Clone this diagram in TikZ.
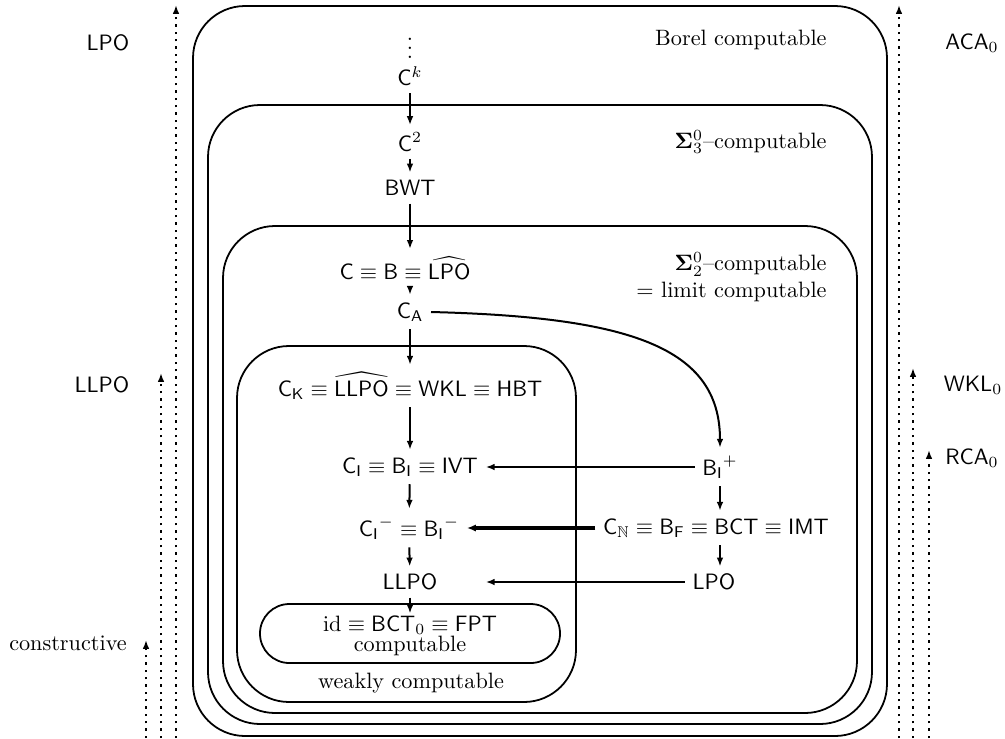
\documentclass[tikz,border=0pt]{standalone}
\usepackage{amsmath,amssymb}
\usetikzlibrary{arrows.meta}
\tikzset{
  region/.style={line width=0.8pt, rounded corners=23.4pt},
  smallregion/.style={line width=0.8pt, rounded corners=13.2pt},
  arr/.style={line width=0.9pt, -{Latex[length=4pt,width=3pt]}},
  thickarr/.style={line width=1.4pt, -{Latex[length=4pt,width=3.2pt]}},
  dotarr/.style={line width=1pt, dash pattern=on 1pt off 2.3pt, -{Latex[length=4pt,width=3pt]}},
  lbl/.style={inner sep=0pt},
}
\begin{document}
\begin{tikzpicture}[x=0.45pt,y=-0.45pt]
\useasboundingbox (0,0) rectangle (1005,738);
% regions
\draw[region] (193,6) rectangle (887,736);
\draw[region] (208,105) rectangle (872,724);
\draw[region] (223,226) rectangle (857,713);
\draw[region] (237,346) rectangle (576,702);
\draw[smallregion] (260,604) rectangle (560,663);
% region labels
\node[lbl, anchor=east] (borel) at (827,40) {Borel computable};
\node[lbl, anchor=east] (sig3) at (827,142) {$\mathbf{\Sigma}^0_3$--computable};
\node[lbl, anchor=east, align=right] (sig2) at (827,277) {$\mathbf{\Sigma}^0_2$--computable\\$=$ limit computable};
\node[lbl] (weak) at (411,683) {weakly computable};
% nodes
\node (dots) at (410,42) {$\vdots$};
\node (Ck) at (410,76) {$\mathsf{C}^k$};
\node (C2) at (410,142) {$\mathsf{C}^2$};
\node (BWT) at (410,188) {$\mathsf{BWT}$};
\node (C) at (405,268) {$\mathsf{C}\equiv\mathsf{B}\equiv\widehat{\mathsf{LPO}}$};
\node (CA) at (410,312) {$\mathsf{C}_{\mathsf{A}}$};
\node (CK) at (410,386) {$\mathsf{C}_{\mathsf{K}}\equiv\widehat{\mathsf{LLPO}}\equiv\mathsf{WKL}\equiv\mathsf{HBT}$};
\node (CI) at (410,467) {$\mathsf{C}_{\mathsf{I}}\equiv\mathsf{B}_{\mathsf{I}}\equiv\mathsf{IVT}$};
\node (CIm) at (409,528) {${\mathsf{C}_{\mathsf{I}}}^-\equiv{\mathsf{B}_{\mathsf{I}}}^-$};
\node (LLPO) at (410,582) {$\mathsf{LLPO}$};
\node[align=center, inner sep=1pt] (id) at (410,636) {$\mathrm{id}\equiv\mathsf{BCT}_0\equiv\mathsf{FPT}$\\[-3pt]computable};
\node (BIp) at (720,467) {${\mathsf{B}_{\mathsf{I}}}^+$};
\node (CN) at (716,528) {$\mathsf{C}_{\mathbb{N}}\equiv\mathsf{B}_{\mathsf{F}}\equiv\mathsf{BCT}\equiv\mathsf{IMT}$};
\node (LPOr) at (714,582) {$\mathsf{LPO}$};
% vertical arrows
\draw[arr] (Ck) -- (C2);
\draw[arr] (C2) -- (BWT);
\draw[arr] (BWT) -- (BWT |- C.north);
\draw[arr] (BWT |- C.south) -- (CA);
\draw[arr] (CA) -- (CK);
\draw[arr] (CK) -- (CI);
\draw[arr] (CI) -- (CIm);
\draw[arr] (CIm) -- (LLPO);
\draw[arr] (LLPO) -- (id);
\draw[arr] (CA.east) .. controls +(200,5) and +(0,-100) .. (BIp.north);
\draw[arr] (BIp) -- (BIp |- CN.north);
\draw[arr] (BIp |- CN.south) -- (BIp |- LPOr.north);
% horizontal arrows
\draw[arr] (BIp.west) -- (CI.east);
\draw[thickarr] (CN.west) -- (CIm.east);
\draw[arr] (LPOr.west) -- (LPOr.west -| CI.east);
% side scales
\coordinate (l1b) at (176,738); \coordinate (l1t) at (176,5);
\coordinate (l2b) at (161,738); \coordinate (l2t) at (161,373);
\coordinate (l3b) at (146,738); \coordinate (l3t) at (146,640);
\coordinate (r1b) at (899,738); \coordinate (r1t) at (899,5);
\coordinate (r2b) at (913,738); \coordinate (r2t) at (913,368);
\coordinate (r3b) at (929,738); \coordinate (r3t) at (929,450);
\draw[dotarr] (l1b) -- (l1t);
\draw[dotarr] (l2b) -- (l2t);
\draw[dotarr] (l3b) -- (l3t);
\draw[dotarr] (r1b) -- (r1t);
\draw[dotarr] (r2b) -- (r2t);
\draw[dotarr] (r3b) -- (r3t);
\node (lpo) at (108,43) {$\mathsf{LPO}$};
\node (llpo) at (102,385) {$\mathsf{LLPO}$};
\node (cons) at (68,643) {constructive};
\node (aca) at (972,43) {$\mathsf{ACA}_0$};
\node (wkl) at (973,385) {$\mathsf{WKL}_0$};
\node (rca) at (972,458) {$\mathsf{RCA}_0$};
\end{tikzpicture}
\end{document}
